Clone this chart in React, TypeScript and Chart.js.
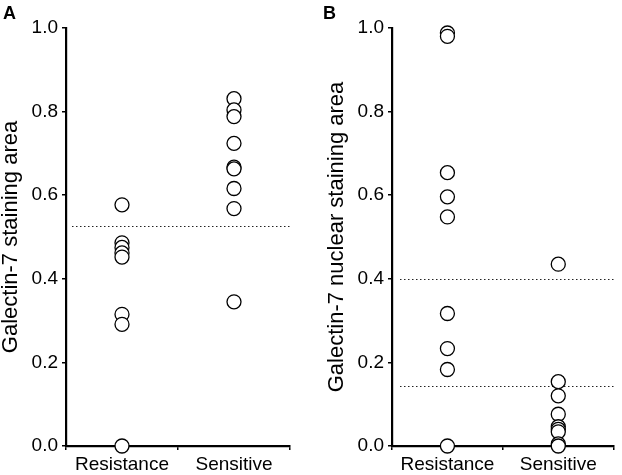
import React, { useEffect, useRef } from "react";
import { Chart, registerables } from "chart.js";

Chart.register(...registerables);

// ---------- data ----------
const categories = ["Resistance", "Sensitive"];
const yTickValues = [0, 0.2, 0.4, 0.6, 0.8, 1.0];

const panelAResistance = [0.577, 0.486, 0.475, 0.462, 0.452, 0.315, 0.291, 0.0];
const panelASensitive = [0.831, 0.804, 0.788, 0.724, 0.667, 0.663, 0.616, 0.568, 0.345];
const panelACutoffs = [0.526];

const panelBResistance = [0.988, 0.98, 0.654, 0.596, 0.548, 0.317, 0.233, 0.183, 0.0];
const panelBSensitive = [0.435, 0.154, 0.12, 0.076, 0.046, 0.04, 0.034, 0.005, 0.0];
const panelBCutoffs = [0.4, 0.144];

const panelATitle = "Galectin-7 staining area";
const panelBTitle = "Galectin-7 nuclear staining area";

const FONT = "'Liberation Sans', Arial, Helvetica, sans-serif";

const refLinePlugin = {
  id: "refLines",
  beforeDatasetsDraw(chart: any, _args: any, opts: any) {
    const { ctx, chartArea, scales } = chart;
    ctx.save();
    ctx.setLineDash([1.5, 2.5]);
    ctx.lineWidth = 1;
    ctx.strokeStyle = "#222";
    for (const v of opts.values || []) {
      const y = Math.round(scales.y.getPixelForValue(v)) + 0.5;
      ctx.beginPath();
      ctx.moveTo(chartArea.left + (opts.startGap || 0), y);
      ctx.lineTo(chartArea.right + (opts.endExtra || 0), y);
      ctx.stroke();
    }
    ctx.restore();
  },
};

function toPoints(cat: string, values: number[]) {
  return values.map((v) => ({ x: cat, y: v }));
}

interface PanelProps {
  resistance: number[];
  sensitive: number[];
  cutoffs: number[];
  title: string;
  yWidth: number;
  padRight: number;
  titlePad: number;
  startGap: number;
}

function Panel(props: PanelProps) {
  const ref = useRef<HTMLCanvasElement | null>(null);
  useEffect(() => {
    if (!ref.current) return;
    const pointStyle = {
      pointRadius: 7,
      pointHoverRadius: 7,
      pointBackgroundColor: "#fff",
      pointBorderColor: "#000",
      pointBorderWidth: 1.3,
      showLine: false,
      clip: false as any,
    };
    const chart = new Chart(ref.current, {
      type: "line",
      data: {
        labels: categories,
        datasets: [
          { data: toPoints(categories[0], props.resistance) as any, ...pointStyle },
          { data: toPoints(categories[1], props.sensitive) as any, ...pointStyle },
        ],
      },
      options: {
        animation: false,
        responsive: false,
        layout: { padding: { top: 28, right: props.padRight, bottom: 0, left: 0 } },
        plugins: {
          legend: { display: false },
          tooltip: { enabled: false },
          refLines: { values: props.cutoffs, startGap: props.startGap, endExtra: 1 },
        } as any,
        scales: {
          x: {
            type: "category",
            offset: true,
            grid: {
              offset: true,
              drawOnChartArea: false,
              drawTicks: true,
              tickLength: 4,
              color: "#000",
              lineWidth: 1.5,
            },
            border: { display: true, color: "#000", width: 2.2 },
            ticks: { color: "#000", font: { family: FONT, size: 19 }, padding: 3, maxRotation: 0 },
            afterFit: (s: any) => {
              s.height = 29;
            },
          },
          y: {
            type: "linear",
            min: 0,
            max: 1,
            afterBuildTicks: (s: any) => {
              s.ticks = yTickValues.map((v) => ({ value: v }));
            },
            ticks: {
              color: "#000",
              font: { family: FONT, size: 19 },
              padding: 4,
              callback: (v: any) => Number(v).toFixed(1),
            },
            grid: {
              drawOnChartArea: false,
              drawTicks: true,
              tickLength: 4,
              color: "#000",
              lineWidth: 1.5,
            },
            border: { display: true, color: "#000", width: 2.2 },
            title: {
              display: true,
              text: props.title,
              color: "#000",
              font: { family: FONT, size: 22, lineHeight: 1 },
              padding: { top: props.titlePad, bottom: 0 },
            },
            afterFit: (s: any) => {
              s.width = props.yWidth;
            },
          },
        },
      },
      plugins: [refLinePlugin],
    });
    return () => chart.destroy();
  }, []);
  return <canvas ref={ref} width={311} height={475} style={{ display: "block" }} />;
}

export default function App() {
  const labelStyle: React.CSSProperties = {
    position: "absolute",
    top: 2,
    fontFamily: FONT,
    fontWeight: "bold",
    fontSize: 18,
    color: "#000",
    lineHeight: "22px",
  };
  return (
    <div style={{ position: "absolute", left: 0, top: 0, width: 622, height: 475, background: "#fff", overflow: "hidden" }}>
      <div style={{ position: "absolute", left: 0, top: 0, width: 311, height: 475 }}>
        <Panel
          resistance={panelAResistance}
          sensitive={panelASensitive}
          cutoffs={panelACutoffs}
          title={panelATitle}
          yWidth={66}
          padRight={21}
          titlePad={0}
          startGap={6}
        />
      </div>
      <div style={{ position: "absolute", left: 311, top: 0, width: 311, height: 475 }}>
        <Panel
          resistance={panelBResistance}
          sensitive={panelBSensitive}
          cutoffs={panelBCutoffs}
          title={panelBTitle}
          yWidth={81}
          padRight={1}
          titlePad={15}
          startGap={8}
        />
      </div>
      <div style={{ ...labelStyle, left: 3 }}>A</div>
      <div style={{ ...labelStyle, left: 12 + 311 }}>B</div>
    </div>
  );
}
